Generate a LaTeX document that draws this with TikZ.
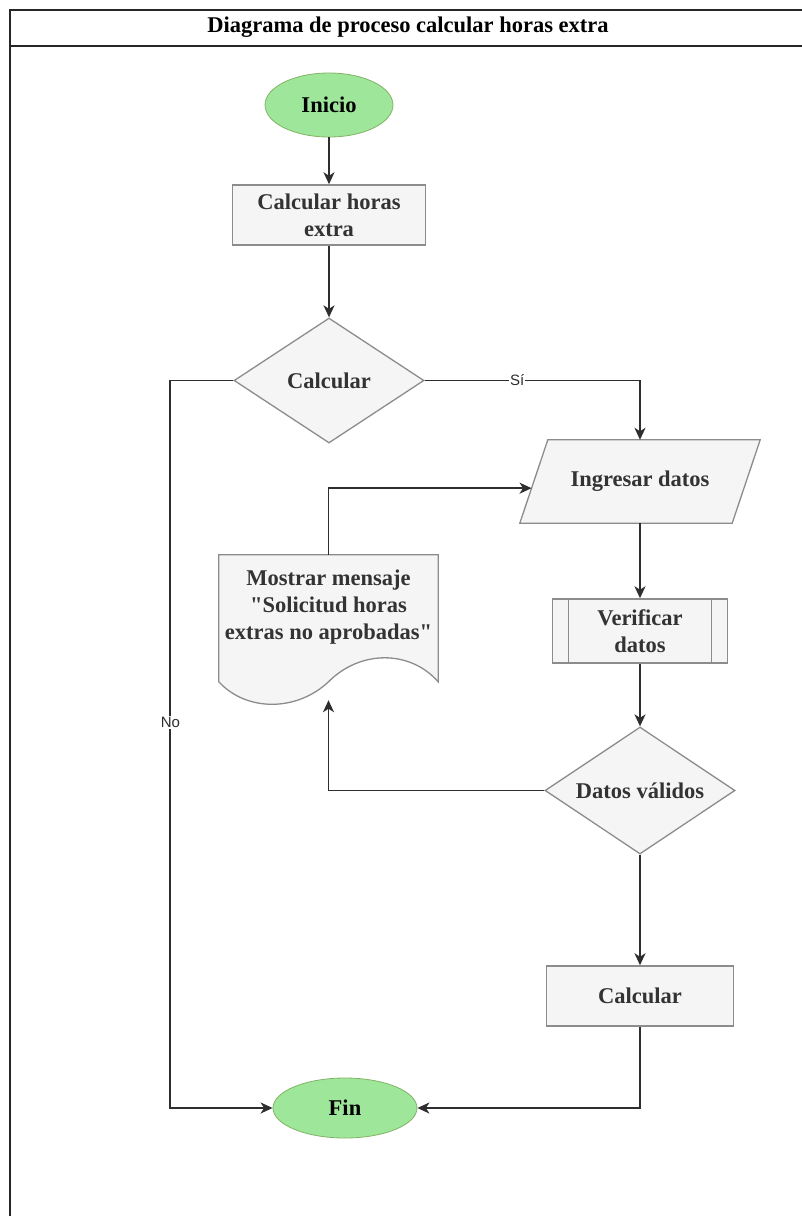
\documentclass[tikz,border=0pt]{standalone}
\usepackage{fontspec}
\setmainfont{Liberation Serif}
\setsansfont{Liberation Sans}
\newfontfamily\qfont{Liberation Serif}
\usetikzlibrary{shapes.geometric,arrows.meta,calc}
\definecolor{boxfill}{HTML}{F5F5F5}
\definecolor{boxline}{HTML}{8C8C8C}
\definecolor{txtgray}{HTML}{333333}
\definecolor{greenfill}{HTML}{9DE69A}
\definecolor{greenline}{HTML}{82B366}
\definecolor{edgecol}{HTML}{2E2E2E}
\newcommand{\dq}{{\qfont\bfseries\symbol{34}}}
\begin{document}
\begin{tikzpicture}[x=1pt,y=-1pt,
 base/.style={font=\fontsize{22.5}{27}\selectfont\bfseries, align=center, inner sep=0pt},
 proc/.style={base, rectangle, draw=boxline, fill=boxfill, text=txtgray, line width=1.5pt},
 term/.style={base, ellipse, draw=greenline, fill=greenfill, text=black, line width=0.8pt},
 dec/.style={base, diamond, aspect=1.6, draw=boxline, fill=boxfill, text=txtgray, line width=1.3pt},
 ghost/.style={rectangle, inner sep=0pt},
 shapeline/.style={draw=boxline, fill=boxfill, line width=1.3pt},
 arr/.style={draw=edgecol, line width=1.8pt, -{Stealth[length=12pt,width=11pt,inset=3.5pt]}},
 lab/.style={font=\sffamily\fontsize{15}{18}\selectfont, fill=white, inner sep=1pt, text=edgecol},
 frameline/.style={draw=black!85, line width=2pt}]

\useasboundingbox (0,0) rectangle (801,1216);
\draw[frameline] (830,10) -- (10,10) -- (10,1240);
\draw[frameline] (10,46) -- (830,46);
\node[font=\fontsize{22.5}{27}\selectfont\bfseries, text=black] (title) at (408,27) {Diagrama de proceso calcular horas extra};

% nodes
\node[term, minimum width=128pt, minimum height=64pt] (ini) at (329,105) {Inicio};
\node[proc, minimum width=193pt, minimum height=60pt] (chx) at (329,215) {Calcular horas\\extra};
\node[dec, minimum width=190pt, minimum height=125pt] (dc1) at (329,380.5) {Calcular};

% input / output parallelogram
\node[ghost, minimum width=240pt, minimum height=83pt] (ing) at (640,481.5) {};
\draw[shapeline] (ing.south west) -- ($(ing.north west)+(28,0)$) -- (ing.north east) -- ($(ing.south east)+(-28,0)$) -- cycle;
\node[base, text=txtgray] (ingtxt) at (ing.center) {Ingresar datos};

\node[proc, minimum width=175pt, minimum height=64pt] (ver) at (640,631) {Verificar\\datos};
\draw[boxline, line width=1.3pt] ($(ver.north west)+(17,0)$) -- ($(ver.south west)+(17,0)$);
\draw[boxline, line width=1.3pt] ($(ver.north east)+(-17,0)$) -- ($(ver.south east)+(-17,0)$);
\node[dec, minimum width=190pt, minimum height=127pt] (dc2) at (640,790.5) {Datos válidos};
\node[proc, minimum width=187pt, minimum height=60pt] (calc) at (640,996) {Calcular};
\node[term, minimum width=144pt, minimum height=60pt] (fin) at (345,1108) {Fin};

% document shape
\node[ghost, minimum width=219pt, minimum height=145pt] (mos) at (328.5,627.5) {};
\draw[shapeline] (mos.north west) -- (mos.north east) -- ($(mos.north east)+(0,127)$)
  .. controls ($(mos.north east)+(-28,95)$) and ($(mos.north east)+(-78,95)$) .. ($(mos.north)+(0,127)$)
  .. controls ($(mos.north)+(-32,157)$) and ($(mos.north)+(-82,157)$) .. ($(mos.north west)+(0,127)$) -- cycle;
\node[base, text=txtgray] (mostxt) at (328.5,607) {Mostrar mensaje\\\dq Solicitud horas\\extras no aprobadas\dq};

% connectors
\draw[arr] (ini) -- (chx);
\draw[arr] (chx) -- (dc1);
\draw[arr] (dc1.west) -- ++(-63,0) -- node[lab, pos=0.47] {No} ++(0,727.5) -- (fin.west);
\draw[arr] (dc1.east) -| node[lab, pos=0.215] {Sí} (ing.north);
\draw[arr] (mos.north) |- ($(ing.south west)!0.42!($(ing.north west)+(28,0)$)$);
\draw[arr] (ing.south) -- (ver.north);
\draw[arr] (ver.south) -- (dc2.north);
\draw[arr] (dc2.west) -| (mos.south);
\draw[arr] (dc2.south) -- (calc.north);
\draw[arr] (calc.south) |- (fin.east);
\end{tikzpicture}
\end{document}
